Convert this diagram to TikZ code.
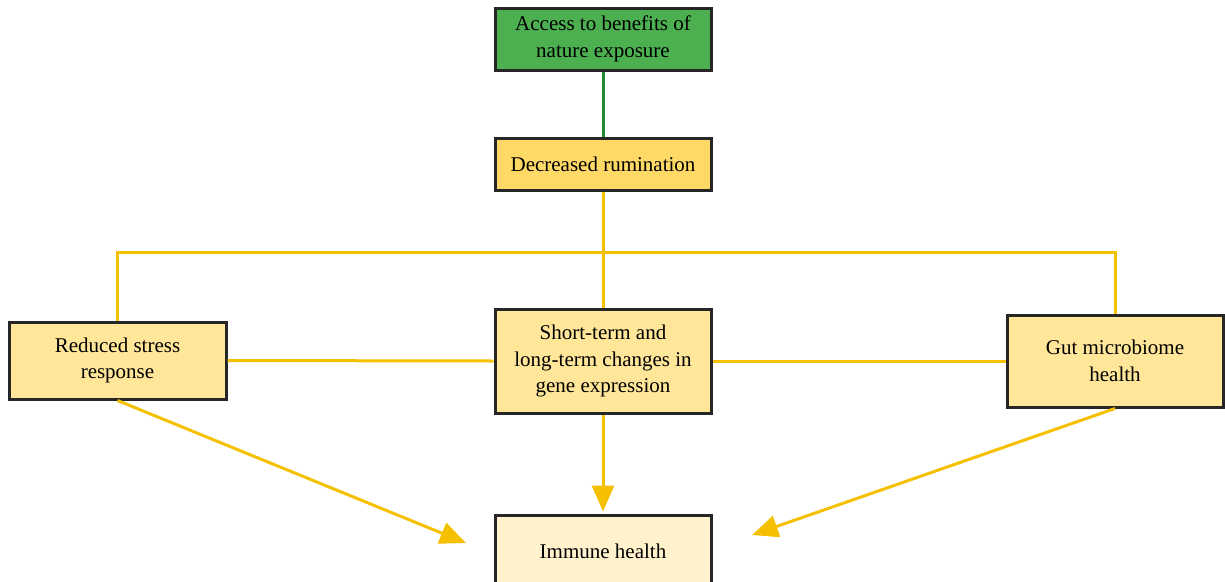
\documentclass[tikz,border=0pt]{standalone}
\usepackage{fontspec}
\setmainfont{Liberation Serif}
\usetikzlibrary{arrows.meta}
\definecolor{boxgreen}{RGB}{76,175,80}
\definecolor{linegreen}{RGB}{30,140,50}
\definecolor{lineyellow}{RGB}{245,192,0}
\definecolor{fillgold}{RGB}{255,217,102}
\definecolor{filllight}{RGB}{255,230,153}
\definecolor{fillpale}{RGB}{255,242,204}
\tikzset{
  box/.style={draw=black!85, line width=3pt, align=center, inner sep=4pt,
    font=\fontsize{21}{26.5}\selectfont, minimum width=216pt},
  link/.style={draw=lineyellow, line width=3pt},
  arr/.style={link, -{Triangle[length=26pt,width=22pt]}}
}
\begin{document}
\begin{tikzpicture}[x=1pt,y=-1pt]
\useasboundingbox (0,0) rectangle (1225,581);
\node[box, fill=boxgreen, minimum height=62pt] (top) at (603,39) {Access to benefits of\\nature exposure};
\node[box, fill=fillgold, minimum height=52pt] (dec) at (603,164) {Decreased rumination};
\node[box, fill=filllight, minimum height=77pt, minimum width=217pt] (red) at (117.5,360.5) {Reduced stress\\response};
\node[box, fill=filllight, minimum height=104pt] (mid) at (603,361) {Short-term and\\long-term changes in\\gene expression};
\node[box, fill=filllight, minimum height=92pt] (gut) at (1115,361) {Gut microbiome\\health};
\node[box, fill=fillpale, minimum height=72pt] (imm) at (603,551) {Immune health};
\coordinate (j) at (603,252);
\coordinate (aL) at (466,543);
\coordinate (aR) at (752,535);
\draw[draw=linegreen, line width=3pt] (top.south) -- (dec.north);
\draw[link] (dec.south) -- (mid.north);
\draw[link] (red.north) |- (j) -| (gut.north);
\draw[link] (red.east) -- (mid.west);
\draw[link] (mid.east) -- (gut.west);
\draw[arr] (mid.south) -- ([yshift=2pt]imm.north);
\draw[arr] (red.south) -- (aL);
\draw[arr] (gut.south) -- (aR);
\end{tikzpicture}
\end{document}
